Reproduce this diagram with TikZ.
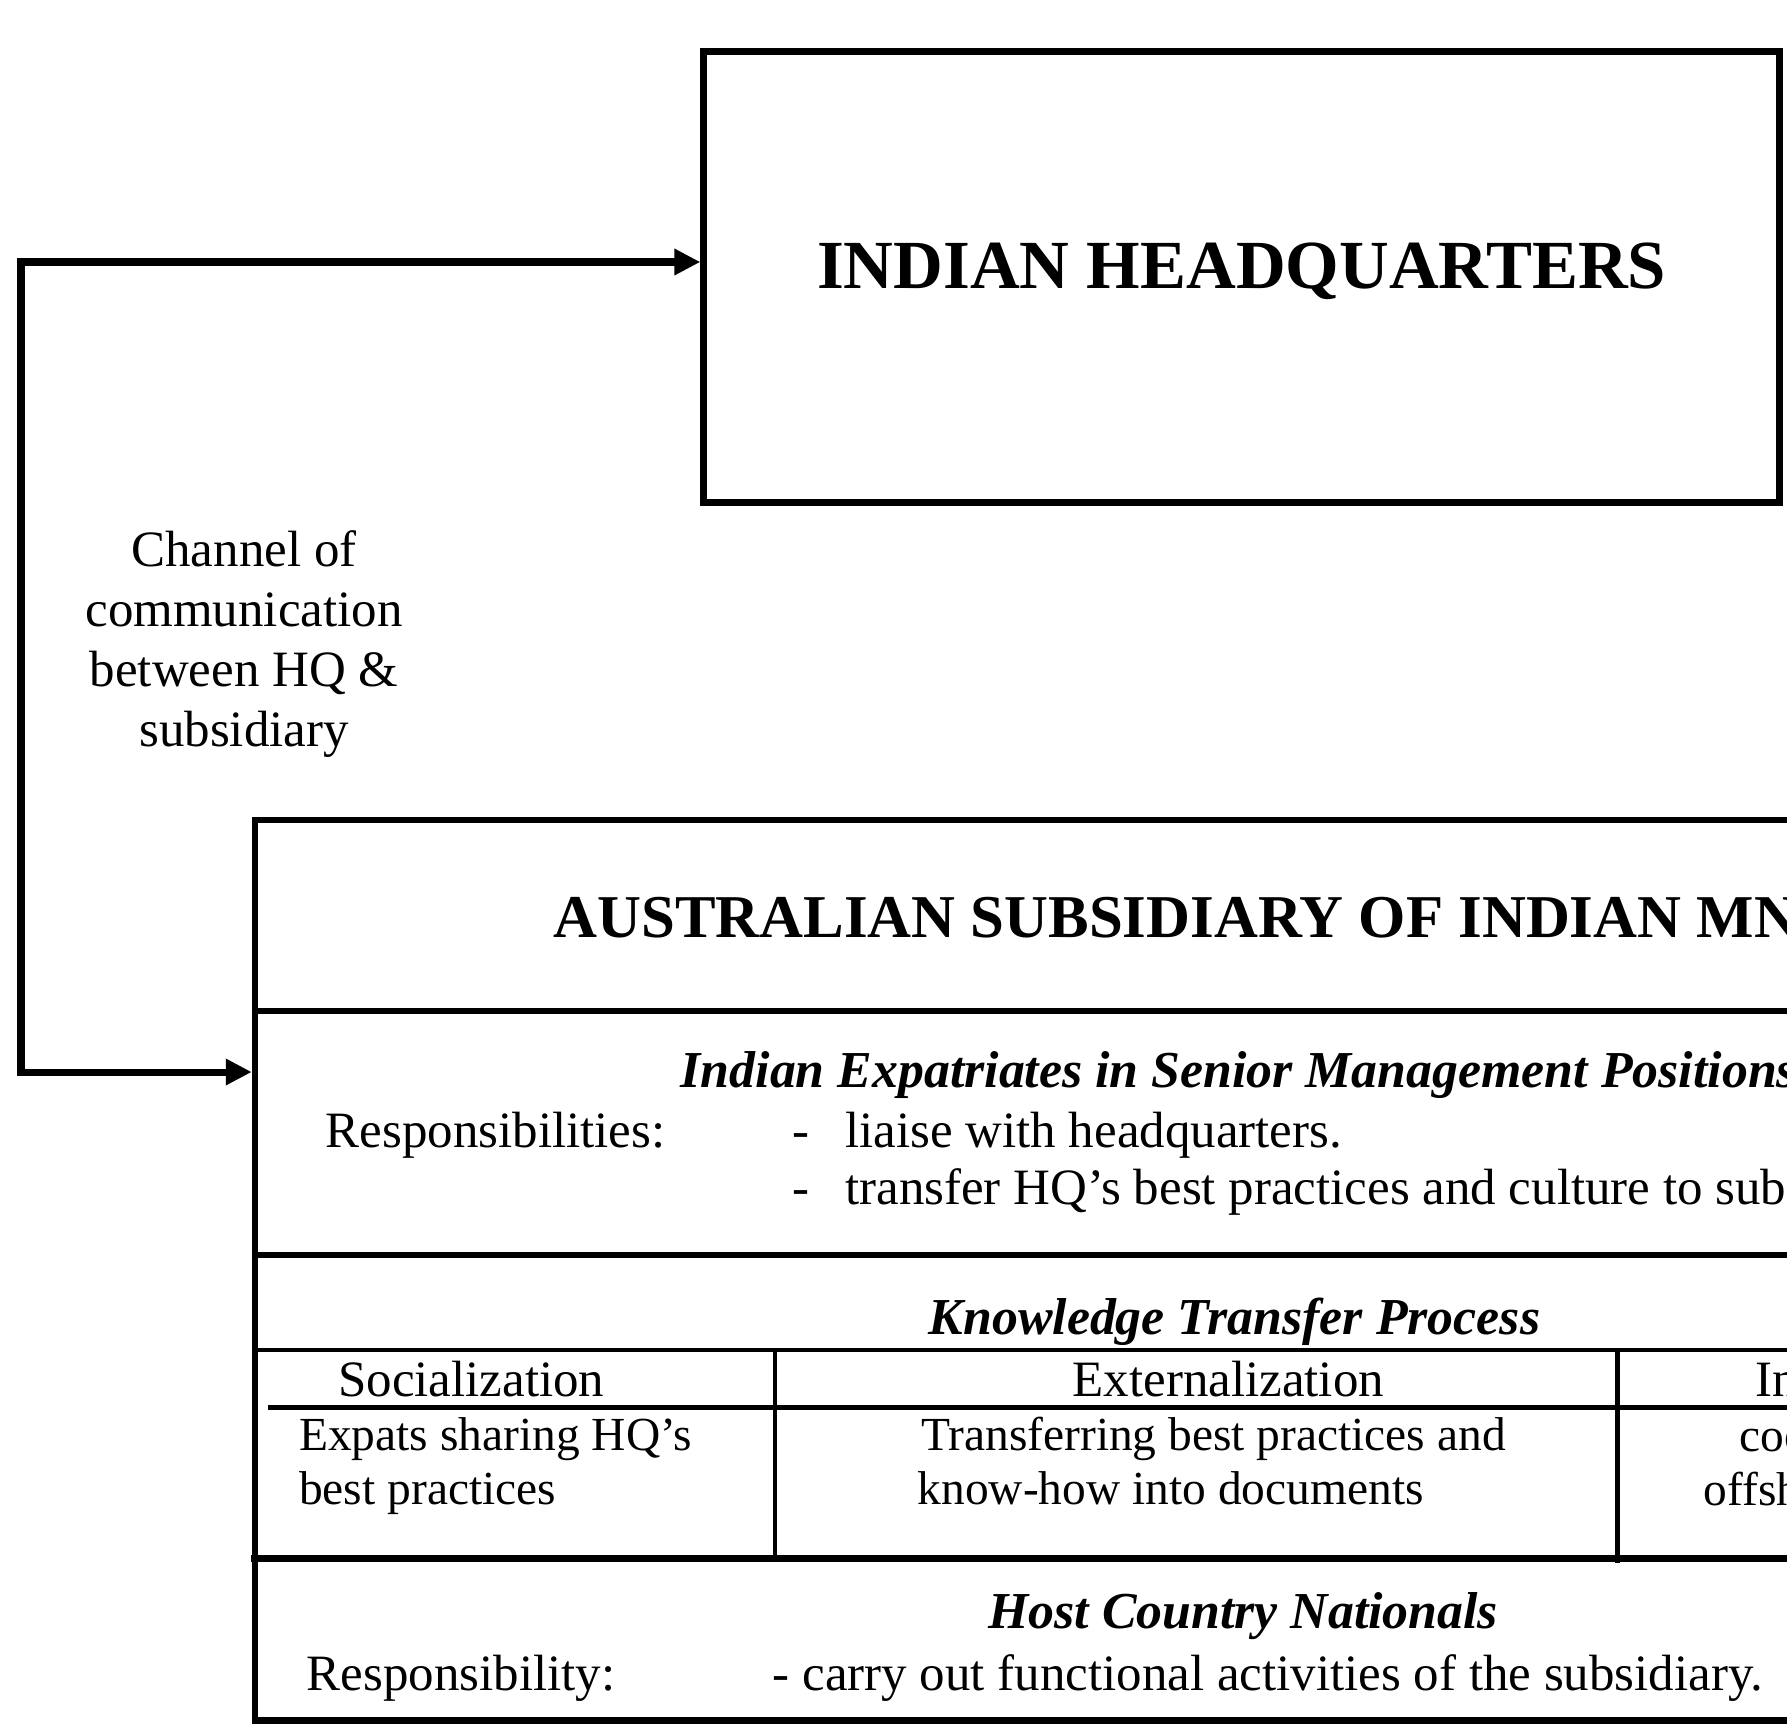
\documentclass[tikz,border=0pt]{standalone}
\usepackage{fontspec}
\setmainfont{Liberation Serif}
\usetikzlibrary{arrows.meta}
\tikzstyle{boxframe}=[draw,line width=1.85pt]
\tikzstyle{hqbox}=[boxframe,rectangle,minimum width=10.76cm,minimum height=4.51cm,inner sep=0pt,text depth=6.7pt,font=\fontsize{19.6}{23}\selectfont\bfseries]
\tikzstyle{subbox}=[boxframe,rectangle,anchor=north west,minimum width=17cm,minimum height=9.005cm,inner sep=0pt]
\tikzstyle{txt}=[anchor=base west,inner sep=0pt,font=\fontsize{14.5}{17.1}\selectfont]
\tikzstyle{celltxt}=[txt,font=\fontsize{13.5}{15.6}\selectfont]
\tikzstyle{rowhead}=[txt,font=\fontsize{14.75}{17.1}\selectfont\bfseries\itshape]
\tikzstyle{boxtitle}=[txt,font=\fontsize{17.3}{21}\selectfont\bfseries]
\tikzstyle{link}=[line width=2pt,{Triangle[length=0.26cm,width=0.25cm]}-{Triangle[length=0.26cm,width=0.25cm]}]
\tikzstyle{rowline}=[line width=1.7pt]
\tikzstyle{cellline}=[line width=1.3pt]

\begin{document}
\begin{tikzpicture}
  \useasboundingbox (0,0) rectangle (17.87,-17.26);
  \clip (0,0) rectangle (17.87,-17.26);

  \node[hqbox] (hq) at (12.416,-2.77) {INDIAN HEADQUARTERS};
  \node[subbox] (sub) at (2.5175,-8.1675) {};
  \node[txt,align=center,anchor=center] (chan) at (2.44,-6.44) {Channel of\\communication\\between HQ \&\\subsidiary};

  \coordinate (chtop) at (0.21,-2.62);
  \coordinate (chbot) at (0.21,-10.72);
  \draw[link] (hq.west |- chtop) -- (chtop) -- (chbot) -- (chbot -| sub.west);

  % rows of the subsidiary box
  \draw[rowline] (2.55,-10.105) -- (19.6,-10.105);
  \draw[rowline] (2.55,-12.545) -- (19.6,-12.545);
  \draw[cellline] (2.55,-13.50) -- (19.6,-13.50);
  \draw[cellline] (2.68,-14.075) -- (19.6,-14.075);
  \draw[rowline,line width=2pt] (2.51,-15.58) -- (19.6,-15.58);
  \draw[cellline] (7.75,-13.50) -- (7.75,-15.58);
  \draw[cellline] (16.175,-13.50) -- (16.175,-15.63);

  \node[boxtitle] (subtitle) at (5.53,-9.37) {AUSTRALIAN SUBSIDIARY OF INDIAN MNE};

  \node[rowhead] (expats) at (6.80,-10.87) {Indian Expatriates in Senior Management Positions};
  \node[txt] (respa) at (3.25,-11.47) {Responsibilities:};
  \node[txt] (dasha) at (7.92,-11.47) {-};
  \node[txt] (liaise) at (8.446,-11.47) {liaise with headquarters.};
  \node[txt] (dashb) at (7.92,-12.04) {-};
  \node[txt] (transfer) at (8.446,-12.04) {transfer HQ’s best practices and culture to subsidiary.};

  \node[rowhead] (ktp) at (9.28,-13.34) {Knowledge Transfer Process};
  \node[txt] (social) at (3.375,-13.96) {Socialization};
  \node[txt] (external) at (10.72,-13.96) {Externalization};
  \node[txt] (internal) at (17.55,-13.96) {Internalization};
  \node[celltxt] (socia) at (2.985,-14.505) {Expats sharing HQ’s};
  \node[celltxt] (socib) at (2.985,-15.045) {best practices};
  \node[celltxt] (exta) at (9.205,-14.505) {Transferring best practices and};
  \node[celltxt] (extb) at (9.17,-15.045) {know-how into documents};
  \node[celltxt] (inta) at (17.39,-14.515) {coordinating};
  \node[celltxt] (intb) at (17.03,-15.05) {offshore};

  \node[rowhead] (hcn) at (9.875,-16.28) {Host Country Nationals};
  \node[txt] (respb) at (3.06,-16.90) {Responsibility:};
  \node[txt] (carry) at (7.72,-16.90) {- carry out functional activities of the subsidiary.};
\end{tikzpicture}
\end{document}
